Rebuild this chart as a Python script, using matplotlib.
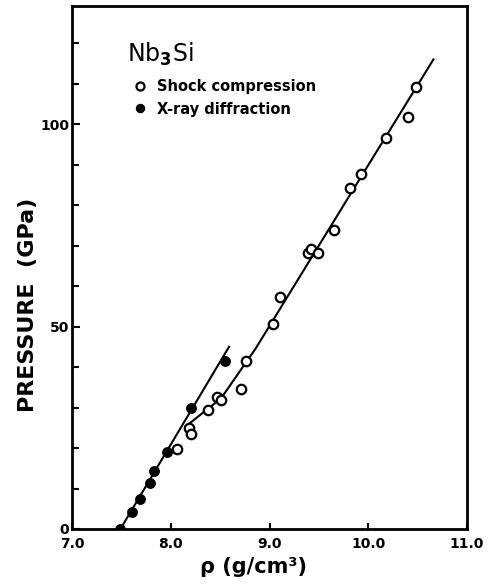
import matplotlib
matplotlib.use("Agg")
import matplotlib.pyplot as plt
from matplotlib.ticker import MultipleLocator, FixedLocator

# ---- data ----
xray_rho = [7.49, 7.61, 7.69, 7.79, 7.83, 7.96, 8.21, 8.55]
xray_p = [0.0, 4.1, 7.3, 11.4, 14.4, 18.9, 29.9, 41.6]

shock_rho = [8.06, 8.18, 8.21, 8.38, 8.47, 8.51, 8.71, 8.76, 9.04, 9.11,
             9.39, 9.42, 9.49, 9.65, 9.82, 9.93, 10.18, 10.40, 10.48]
shock_p = [19.8, 25.0, 23.4, 29.3, 32.7, 31.8, 34.7, 41.6, 50.6, 57.2,
           68.3, 69.2, 68.1, 73.9, 84.3, 87.6, 96.5, 101.9, 109.3]

xray_fit_rho = [7.49, 8.59]
xray_fit_p = [0.0, 45.0]

shock_fit_rho = [8.15, 8.51, 8.86, 9.97, 10.66]
shock_fit_p = [25.3, 32.3, 44.6, 88.7, 116.0]

x_ticks = [7.0, 8.0, 9.0, 10.0, 11.0]
x_ticklabels = ["7.0", "8.0", "9.0", "10.0", "11.0"]
y_ticks = [0, 50, 100]
y_ticklabels = ["0", "50", "100"]

labels = ["Shock compression", "X-ray diffraction"]
title_text = "Nb$_\\mathbf{3}$Si"

# ---- figure ----
fig = plt.figure(figsize=(4.94, 5.86), dpi=100)
W, H = 494, 586
L, R, B, T = 72, 467, 529, 6
ax = fig.add_axes([L / W, 1 - B / H, (R - L) / W, (B - T) / H])

lw_line = 1.5
ax.plot(xray_fit_rho, xray_fit_p, color="black", lw=lw_line, zorder=2)
ax.plot(shock_fit_rho, shock_fit_p, color="black", lw=lw_line, zorder=2)

ms = 6.8
h_open, = ax.plot(shock_rho, shock_p, "o", ms=ms, mfc="white", mec="black",
                  mew=1.6, ls="none", zorder=3)
h_fill, = ax.plot(xray_rho, xray_p, "o", ms=ms, mfc="black", mec="black",
                  mew=1.0, ls="none", zorder=4)

ax.set_xlim(7.0, 11.0)
ax.set_ylim(0, 129.2)

ax.xaxis.set_major_locator(FixedLocator(x_ticks))
ax.set_xticklabels(x_ticklabels)
ax.yaxis.set_major_locator(FixedLocator(y_ticks))
ax.set_yticklabels(y_ticklabels)
ax.yaxis.set_minor_locator(MultipleLocator(10))

for s in ax.spines.values():
    s.set_linewidth(2.0)

ax.tick_params(axis="x", which="major", direction="in", length=4, width=1.5,
               pad=6, labelsize=10)
ax.tick_params(axis="y", which="major", direction="in", length=6, width=1.5,
               pad=2, labelsize=10)
ax.tick_params(axis="y", which="minor", direction="in", length=5, width=1.5)
for lab in ax.get_xticklabels() + ax.get_yticklabels():
    lab.set_fontweight("bold")

ax.set_xlabel("ρ (g/cm³)", fontsize=15, fontweight="bold")
ax.xaxis.set_label_coords(0.46, -0.053)
ax.set_ylabel("PRESSURE  (GPa)", fontsize=16, fontweight="bold")
ax.yaxis.set_label_coords(-0.087, 0.428)

ax.text(0.139, 0.893, title_text, transform=ax.transAxes, fontsize=17,
        ha="left", va="baseline")

leg = ax.legend([h_open, h_fill], labels, loc="upper left",
                bbox_to_anchor=(0.16, 0.86), frameon=False,
                handlelength=0.6, handletextpad=0.9, borderpad=0,
                borderaxespad=0, labelspacing=0.5,
                prop={"size": 10.5, "weight": "bold"}, markerscale=0.85)

fig.savefig("out.png", dpi=100)
